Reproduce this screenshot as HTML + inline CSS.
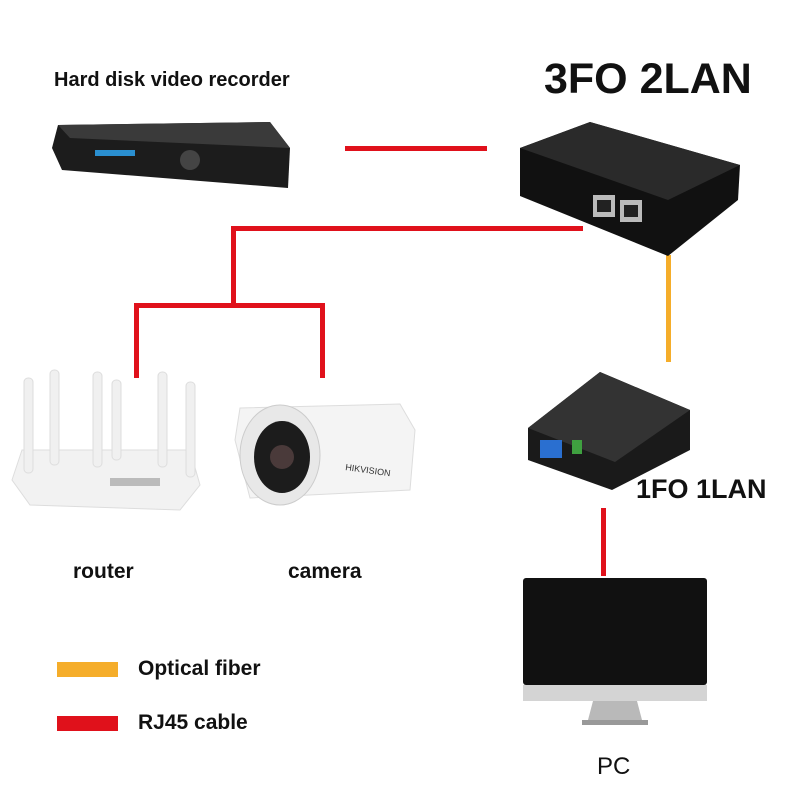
<!DOCTYPE html>
<html><head><meta charset="utf-8"><style>
body{margin:0;width:800px;height:800px;background:#fff;position:relative;overflow:hidden;font-family:"Liberation Sans",sans-serif}
.t{position:absolute;font-weight:bold;color:#111;white-space:nowrap}
</style></head><body>
<svg width="800" height="800" style="position:absolute;left:0;top:0">
<g fill="#e0111b">
<rect x="345" y="146" width="142" height="5"/>
<rect x="231" y="226" width="352" height="5"/>
<rect x="231" y="226" width="5" height="80"/>
<rect x="134" y="303" width="191" height="5"/>
<rect x="134" y="303" width="5" height="75"/>
<rect x="320" y="303" width="5" height="75"/>
<rect x="601" y="508" width="5" height="68"/>
<rect x="57" y="716" width="61" height="15"/>
</g>
<rect x="666" y="255" width="5" height="107" fill="#f5ad2a"/>
<rect x="57" y="662" width="61" height="15" fill="#f5ad2a"/>
<!-- DVR -->
<polygon points="58,125 270,122 290,148 288,188 62,170 52,148" fill="#1c1c1c"/>
<polygon points="58,125 270,122 290,148 70,138" fill="#3a3a3a"/>
<rect x="95" y="150" width="40" height="6" fill="#2a8fd0"/>
<circle cx="190" cy="160" r="10" fill="#444"/>
<!-- switch -->
<polygon points="520,148 590,122 740,165 738,200 668,256 520,196" fill="#111"/>
<polygon points="520,148 590,122 740,165 668,200" fill="#2a2a2a"/>
<rect x="593" y="195" width="22" height="22" fill="#bbb"/><rect x="620" y="200" width="22" height="22" fill="#bbb"/>
<rect x="597" y="200" width="14" height="12" fill="#222"/><rect x="624" y="205" width="14" height="12" fill="#222"/>
<!-- media converter -->
<polygon points="528,428 600,372 690,410 690,450 612,490 528,460" fill="#1a1a1a"/>
<polygon points="528,428 600,372 690,410 615,462" fill="#333"/>
<rect x="572" y="440" width="10" height="14" fill="#3fa040"/>
<rect x="540" y="440" width="22" height="18" fill="#2a6fd0"/>
<!-- PC -->
<rect x="523" y="578" width="184" height="107" rx="3" fill="#111"/>
<rect x="523" y="685" width="184" height="16" fill="#d4d4d4"/>
<polygon points="593,701 637,701 642,720 588,720" fill="#b9b9b9"/>
<rect x="582" y="720" width="66" height="5" fill="#999"/>
<!-- router -->
<polygon points="22,450 190,450 200,485 180,510 30,505 12,480" fill="#f2f2f2" stroke="#ddd"/>
<rect x="110" y="478" width="50" height="8" fill="#bbb"/>
<g fill="#f0f0f0" stroke="#ddd">
<rect x="24" y="378" width="9" height="95" rx="4"/><rect x="50" y="370" width="9" height="95" rx="4"/>
<rect x="93" y="372" width="9" height="95" rx="4"/><rect x="158" y="372" width="9" height="95" rx="4"/>
<rect x="186" y="382" width="9" height="95" rx="4"/><rect x="112" y="380" width="9" height="80" rx="4"/>
</g>
<!-- camera -->
<polygon points="240,408 400,404 415,430 410,490 250,498 235,440" fill="#f4f4f4" stroke="#ddd"/>
<ellipse cx="280" cy="455" rx="40" ry="50" fill="#e8e8e8" stroke="#ccc"/>
<ellipse cx="282" cy="457" rx="28" ry="36" fill="#1c1c1c"/>
<circle cx="282" cy="457" r="12" fill="#4a3a3a"/>
<text x="345" y="470" font-size="9" font-family="Liberation Sans" fill="#333" transform="rotate(8 345 470)">HIKVISION</text>
</svg>
<div class="t" style="left:54px;top:69px;font-size:20px">Hard disk video recorder</div>
<div class="t" style="left:544px;top:55px;font-size:43px">3FO 2LAN</div>
<div class="t" style="left:636px;top:474px;font-size:27px">1FO 1LAN</div>
<div class="t" style="left:73px;top:560px;font-size:21px">router</div>
<div class="t" style="left:288px;top:560px;font-size:21px">camera</div>
<div class="t" style="left:138px;top:657px;font-size:21px">Optical fiber</div>
<div class="t" style="left:138px;top:711px;font-size:21px">RJ45 cable</div>
<div class="t" style="left:597px;top:753px;font-size:24px;font-weight:normal">PC</div>
</body></html>
